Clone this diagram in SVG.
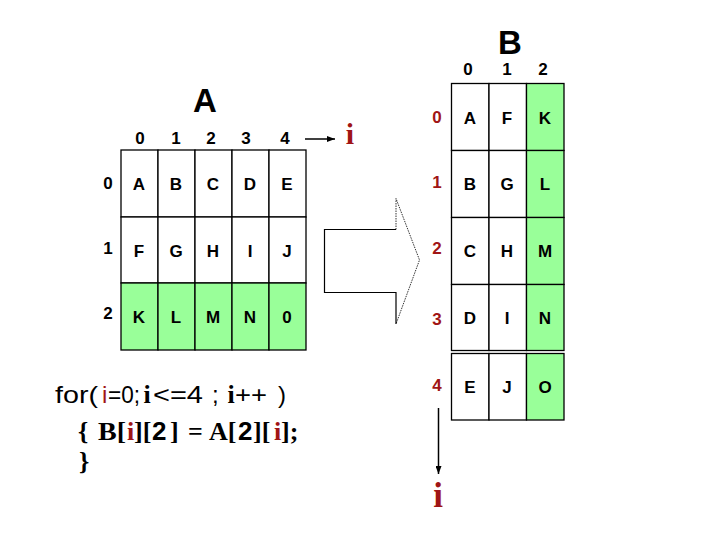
<svg xmlns="http://www.w3.org/2000/svg" width="720" height="540" viewBox="0 0 720 540">
<style>
.cell{stroke:#000;stroke-width:1.3;fill:#fff}
.g{fill:#99ff99}
.t{font-family:"Liberation Sans",Arial,sans-serif;font-weight:bold;font-size:17px;text-anchor:middle;fill:#000}
.h{font-family:"Liberation Sans Narrow","Liberation Sans",Arial,sans-serif;font-weight:bold;font-size:17px;text-anchor:middle;fill:#000}
.r{fill:#a01515}
.title{font-family:"Liberation Sans",Arial,sans-serif;font-weight:bold;font-size:33px;text-anchor:middle;fill:#000}
.ii{font-family:"Liberation Serif","Times New Roman",serif;font-weight:bold;fill:#a01515;text-anchor:middle}
.c1{font-family:"Liberation Sans",Arial,sans-serif;font-size:24px;fill:#000}
.c2{font-family:"Liberation Serif","Times New Roman",serif;font-weight:bold;font-size:26px;fill:#000}
.s{font-family:"Liberation Sans",Arial,sans-serif}
</style>
<defs>
<marker id="ah" markerWidth="8" markerHeight="6" refX="8" refY="3" orient="auto" markerUnits="userSpaceOnUse">
<path d="M0,0 L8,3 L0,6 Z" fill="#000"/>
</marker>
</defs>
<rect width="720" height="540" fill="#fff"/>

<g id="arrayA">
<text class="title" x="205" y="112">A</text>
<g class="h">
<text x="140" y="144">0</text><text x="176" y="144">1</text><text x="211" y="144">2</text><text x="246" y="144">3</text><text x="285" y="144">4</text>
<text x="108" y="189">0</text><text x="108" y="254">1</text><text x="108" y="319">2</text>
</g>
<g>
<rect class="cell" x="121" y="150" width="37" height="67"/><rect class="cell" x="158" y="150" width="37" height="67"/><rect class="cell" x="195" y="150" width="37" height="67"/><rect class="cell" x="232" y="150" width="37" height="67"/><rect class="cell" x="269" y="150" width="37" height="67"/>
<rect class="cell" x="121" y="217" width="37" height="66"/><rect class="cell" x="158" y="217" width="37" height="66"/><rect class="cell" x="195" y="217" width="37" height="66"/><rect class="cell" x="232" y="217" width="37" height="66"/><rect class="cell" x="269" y="217" width="37" height="66"/>
<rect class="cell g" x="121" y="283" width="37" height="67"/><rect class="cell g" x="158" y="283" width="37" height="67"/><rect class="cell g" x="195" y="283" width="37" height="67"/><rect class="cell g" x="232" y="283" width="37" height="67"/><rect class="cell g" x="269" y="283" width="37" height="67"/>
</g>
<g class="t">
<text x="139" y="190">A</text><text x="176" y="190">B</text><text x="213" y="190">C</text><text x="250" y="190">D</text><text x="287" y="190">E</text>
<text x="139" y="257">F</text><text x="176" y="257">G</text><text x="213" y="257">H</text><text x="250" y="257">I</text><text x="287" y="257">J</text>
<text x="139" y="323">K</text><text x="176" y="323">L</text><text x="213" y="323">M</text><text x="250" y="323">N</text><text class="h" x="287" y="323">0</text>
</g>
</g>

<g id="arrayB">
<text class="title" x="510" y="54">B</text>
<g class="h">
<text x="468" y="75">0</text><text x="507" y="75">1</text><text x="543" y="75">2</text>
</g>
<g class="h r">
<text x="437" y="123">0</text><text x="437" y="188">1</text><text x="437" y="254">2</text><text x="437" y="325">3</text><text x="437" y="391">4</text>
</g>
<g>
<rect class="cell" x="451.5" y="83.5" width="37.5" height="67"/><rect class="cell" x="489" y="83.5" width="37.5" height="67"/><rect class="cell g" x="526.5" y="83.5" width="37.5" height="67"/>
<rect class="cell" x="451.5" y="150.5" width="37.5" height="67"/><rect class="cell" x="489" y="150.5" width="37.5" height="67"/><rect class="cell g" x="526.5" y="150.5" width="37.5" height="67"/>
<rect class="cell" x="451.5" y="217.5" width="37.5" height="67"/><rect class="cell" x="489" y="217.5" width="37.5" height="67"/><rect class="cell g" x="526.5" y="217.5" width="37.5" height="67"/>
<rect class="cell" x="451.5" y="284.5" width="37.5" height="66"/><rect class="cell" x="489" y="284.5" width="37.5" height="66"/><rect class="cell g" x="526.5" y="284.5" width="37.5" height="66"/>
<rect class="cell" x="451.5" y="353.5" width="37.5" height="66.5"/><rect class="cell" x="489" y="353.5" width="37.5" height="66.5"/><rect class="cell g" x="526.5" y="353.5" width="37.5" height="66.5"/>
</g>
<g class="t">
<text x="470" y="124">A</text><text x="507" y="124">F</text><text x="545" y="124">K</text>
<text x="470" y="190">B</text><text x="507" y="190">G</text><text x="545" y="190">L</text>
<text x="470" y="257">C</text><text x="507" y="257">H</text><text x="545" y="257">M</text>
<text x="470" y="324">D</text><text x="507" y="324">I</text><text x="545" y="324">N</text>
<text x="470" y="393">E</text><text x="507" y="393">J</text><text x="545" y="393">O</text>
</g>
</g>

<g id="labels">
<text class="ii" x="350" y="144" font-size="30">i</text>
<text class="ii" x="438" y="507" font-size="35">i</text>
</g>

<g id="bigArrow">
<path d="M396,229.5 L324.5,229.5 L324.5,292.5 L396,292.5 L396,324" fill="none" stroke="#000" stroke-width="1.2"/>
<path d="M396,229.5 L396,198.5 L419.5,260 L396,324" fill="none" stroke="#000" stroke-width="0.8" stroke-dasharray="1.5,1"/>
</g>

<g id="connectors" stroke="#000" stroke-width="1.5" fill="none">
<line x1="305" y1="139" x2="335" y2="139" marker-end="url(#ah)"/>
<line x1="438.5" y1="408" x2="438.5" y2="474" marker-end="url(#ah)"/>
</g>

<g id="code">
<text class="c1" y="403"><tspan x="55" textLength="43" lengthAdjust="spacingAndGlyphs">for(</tspan><tspan x="102" class="r">i</tspan><tspan x="108" textLength="32" lengthAdjust="spacingAndGlyphs">=0;</tspan><tspan x="143.5" class="c2 r" font-size="25">i</tspan><tspan x="153" textLength="50" lengthAdjust="spacingAndGlyphs">&lt;=4</tspan><tspan x="212">;</tspan><tspan x="227.5" class="c2 r" font-size="25">i</tspan><tspan x="235" textLength="32" lengthAdjust="spacingAndGlyphs">++</tspan><tspan x="278">)</tspan></text>
<text class="c2" y="440"><tspan x="78">{</tspan><tspan x="98" textLength="28" lengthAdjust="spacingAndGlyphs">B[</tspan><tspan x="127" class="r">i</tspan><tspan x="134">][</tspan><tspan x="152" class="s">2</tspan><tspan x="170">]</tspan><tspan x="188">=</tspan><tspan x="209">A[</tspan><tspan x="238" class="s">2</tspan><tspan x="253">][</tspan><tspan x="274" class="r">i</tspan><tspan x="281">];</tspan></text>
<text class="c2" x="79" y="470">}</text>
</g>
</svg>
